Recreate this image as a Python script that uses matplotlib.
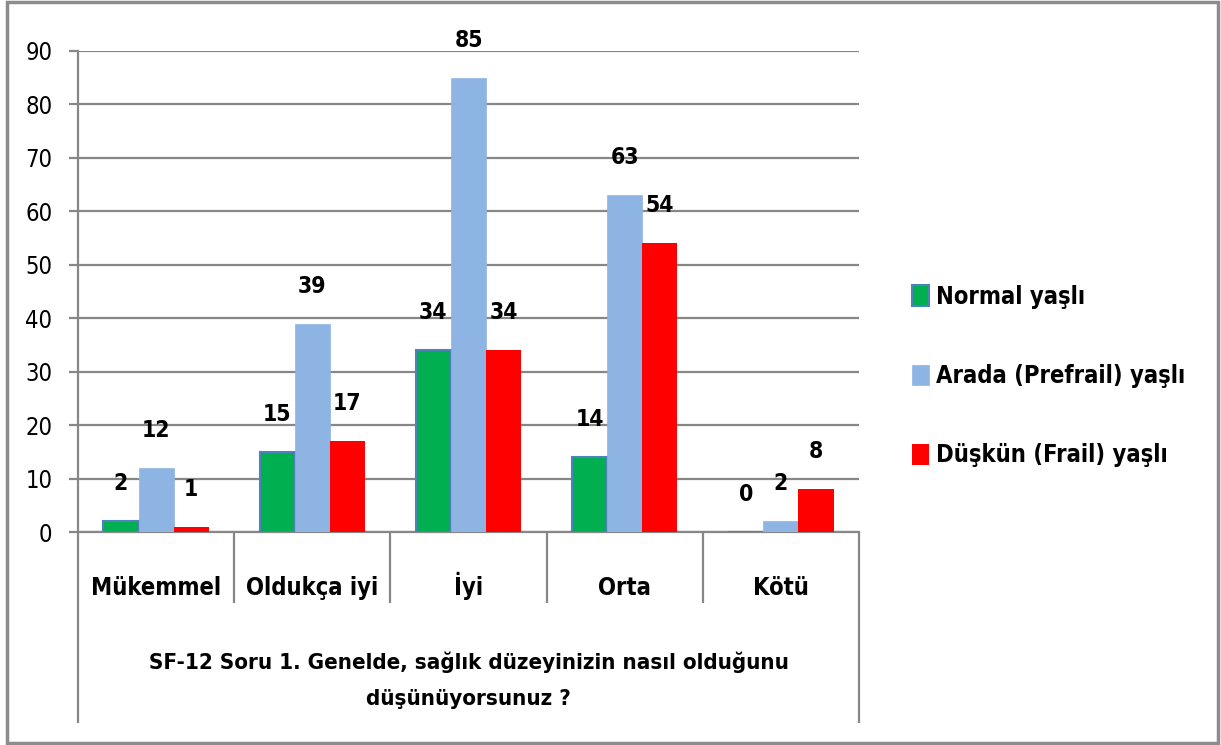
import numpy as np
import matplotlib
matplotlib.use("Agg")
import matplotlib.pyplot as plt
from matplotlib import font_manager
from matplotlib.patches import Rectangle
import matplotlib.transforms as mtransforms

categories = ["Mükemmel", "Oldukça iyi", "İyi", "Orta", "Kötü"]
normal = [2, 15, 34, 14, 0]
prefrail = [12, 39, 85, 63, 2]
frail = [1, 17, 34, 54, 8]
series_names = ["Normal yaşlı", "Arada (Prefrail) yaşlı", "Düşkün (Frail) yaşlı"]
y_ticks = [0, 10, 20, 30, 40, 50, 60, 70, 80, 90]
axis_title = "SF-12 Soru 1. Genelde, sağlık düzeyinizin nasıl olduğunu\ndüşünüyorsunuz ?"

# pick a narrow font if there is one
names = {f.name for f in font_manager.fontManager.ttflist}
if "Liberation Sans Narrow" in names:
    plt.rcParams['font.family'] = ['Liberation Sans Narrow', 'DejaVu Sans']
else:
    plt.rcParams['font.family'] = ['DejaVu Sans']
    plt.rcParams['font.stretch'] = 'condensed'

grid_c = '#878787'
W, H = 1221, 745
fig = plt.figure(figsize=(W / 100, H / 100), dpi=100)
ax = fig.add_axes([78 / W, 1 - 532 / H, (859 - 78) / W, (532 - 51) / H])

x = np.arange(len(categories))
bw = 0.225
b1 = ax.bar(x - bw, normal, bw, color='#00B050', edgecolor='#4F81BD', linewidth=1.5,
            label=series_names[0], zorder=3)
b2 = ax.bar(x, prefrail, bw, color='#8DB4E2', edgecolor='#8DB4E2', linewidth=0.5,
            label=series_names[1], zorder=3)
b3 = ax.bar(x + bw, frail, bw, color='#FF0000', linewidth=0,
            label=series_names[2], zorder=3)

for bars in (b1, b2, b3):
    for r in bars:
        v = r.get_height()
        ax.annotate(str(int(v)), (r.get_x() + r.get_width() / 2, v), xytext=(0, 27),
                    textcoords='offset points', ha='center', va='center',
                    fontsize=16.5, fontweight='bold')

ax.set_xlim(-0.5, len(categories) - 0.5)
ax.set_ylim(0, 90)
ax.set_yticks(y_ticks)
ax.yaxis.grid(True, color=grid_c, linewidth=1.6, zorder=0)
ax.set_axisbelow(True)
ax.tick_params(axis='y', length=6.5, width=1.6, color=grid_c, pad=12, labelsize=17)
ax.set_xticks([])
for s in ('top', 'right'):
    ax.spines[s].set_visible(False)
for s in ('left', 'bottom'):
    ax.spines[s].set_color(grid_c)
    ax.spines[s].set_linewidth(1.6)

trans = mtransforms.blended_transform_factory(ax.transData, ax.transAxes)
ax.vlines(x[:-1] + 0.5, -0.148, 0, transform=trans, color=grid_c, linewidth=1.6, clip_on=False)
ax.vlines([-0.5, len(categories) - 0.5], -0.397, 0, transform=trans, color=grid_c,
          linewidth=1.6, clip_on=False)
for xi, c in zip(x, categories):
    ax.text(xi, -0.131, c, transform=trans, ha='center', va='baseline',
            fontsize=17, fontweight='bold')
ax.text(0.5, -0.308, axis_title, transform=ax.transAxes, ha='center', va='center',
        fontsize=16, fontweight='bold', linespacing=2.0)

leg = fig.legend(handles=[b1, b2, b3], loc='center left', bbox_to_anchor=(912 / W, 1 - 376 / H),
                 frameon=False, prop={'weight': 'bold', 'size': 17},
                 handlelength=0.7, handleheight=0.95, handletextpad=0.3,
                 labelspacing=2.35, borderpad=0, borderaxespad=0)

fig.patches.append(Rectangle((7 / W, 2 / H), (1218 - 7) / W, (743 - 2) / H, transform=fig.transFigure,
                             fill=False, edgecolor='#8C8C8C', linewidth=2.5))

fig.savefig("out.png", dpi=100)
